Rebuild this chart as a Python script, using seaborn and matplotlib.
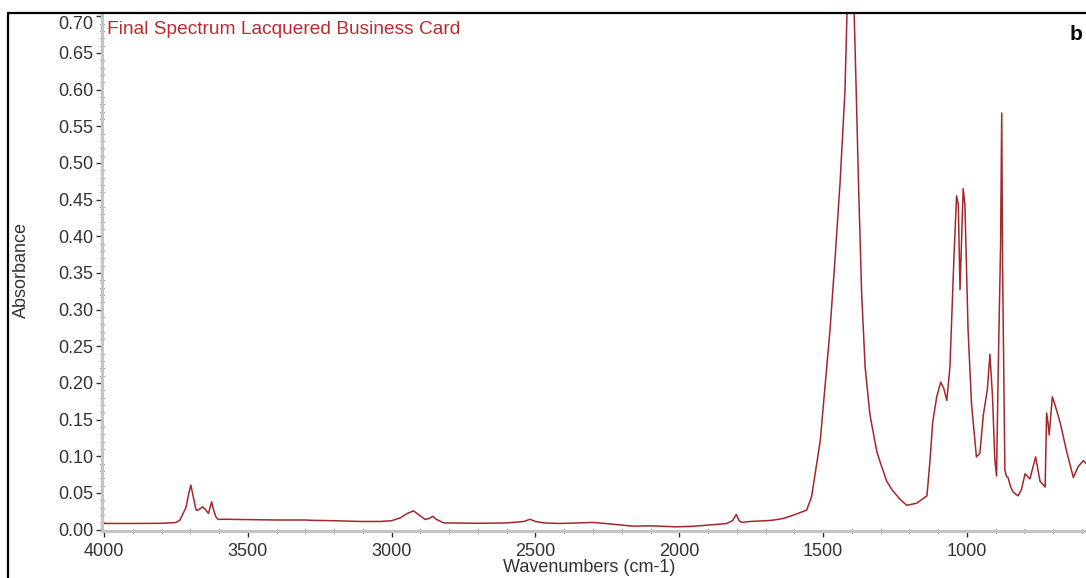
import matplotlib
matplotlib.use("Agg")
import matplotlib.pyplot as plt
from matplotlib.lines import Line2D
from matplotlib.ticker import MultipleLocator, FormatStrFormatter
import seaborn as sns
import pandas as pd

# FTIR absorbance spectrum of the lacquered business card
wavenumbers = [
    4000, 3900, 3800, 3750, 3736, 3715, 3705, 3698, 3690, 3682, 3678, 3667,
    3657, 3647, 3637, 3631, 3626, 3620, 3612, 3604, 3580, 3500, 3400, 3300,
    3273, 3200, 3110, 3040, 3000, 2970, 2945, 2924, 2905, 2884, 2870, 2857,
    2845, 2820, 2700, 2600, 2540, 2519, 2500, 2470, 2414, 2300, 2250, 2161,
    2100, 2009, 1950, 1900, 1870, 1835, 1815, 1802, 1792, 1783, 1754, 1700,
    1673, 1640, 1603, 1580, 1557, 1540, 1528, 1510, 1493, 1476, 1458, 1441,
    1424, 1417, 1410, 1400, 1392, 1385, 1377, 1366, 1354, 1337, 1313, 1300,
    1279, 1260, 1232, 1209, 1174, 1139, 1128, 1119, 1105, 1091, 1080, 1070,
    1059, 1045, 1036, 1030, 1024, 1013, 1007, 996, 984, 967, 955, 943, 929,
    920, 911, 903, 897, 891, 883, 879, 876, 868, 862, 857, 848, 839, 822, 810,
    798, 781, 761, 746, 728, 723, 718, 714, 703, 690, 676, 653, 630, 613, 595,
    586,
]
absorbance = [
    0.0083, 0.0083, 0.0085, 0.0095, 0.013, 0.030, 0.050, 0.0606, 0.045, 0.030, 0.026, 0.028,
    0.031, 0.027, 0.022, 0.030, 0.0378, 0.028, 0.018, 0.0138, 0.014, 0.0135, 0.013, 0.013,
    0.0125, 0.012, 0.011, 0.011, 0.012, 0.016, 0.022, 0.0255, 0.020, 0.0138, 0.015, 0.018,
    0.014, 0.0091, 0.0085, 0.009, 0.011, 0.014, 0.011, 0.009, 0.0083, 0.0097, 0.008, 0.0046,
    0.005, 0.0037, 0.0045, 0.006, 0.007, 0.0083, 0.012, 0.0206, 0.012, 0.0097, 0.011, 0.012,
    0.0128, 0.015, 0.0196, 0.023, 0.0265, 0.045, 0.075, 0.121, 0.197, 0.272, 0.372, 0.473,
    0.598, 0.703, 0.735, 0.735, 0.703, 0.600, 0.473, 0.322, 0.222, 0.156, 0.106, 0.090,
    0.066, 0.054, 0.041, 0.033, 0.036, 0.046, 0.096, 0.146, 0.181, 0.201, 0.192, 0.176,
    0.222, 0.372, 0.455, 0.443, 0.327, 0.465, 0.443, 0.272, 0.171, 0.099, 0.104, 0.156, 0.191,
    0.239, 0.181, 0.096, 0.073, 0.222, 0.387, 0.568, 0.357, 0.081, 0.072, 0.071, 0.058, 0.051,
    0.046, 0.055, 0.076, 0.069, 0.099, 0.066, 0.058, 0.159, 0.145, 0.129, 0.181, 0.165, 0.146,
    0.106, 0.071, 0.086, 0.094, 0.090,
]

x_major_ticks = [4000, 3500, 3000, 2500, 2000, 1500, 1000]
title_text = "Final Spectrum Lacquered Business Card"
panel_label = "b"

sns.set_theme(style="white")
plt.rcParams["font.family"] = ["Liberation Sans", "DejaVu Sans"]

W, H = 1086, 578
fig = plt.figure(figsize=(W / 100, H / 100), dpi=100)
ax = fig.add_axes([102 / W, (H - 531) / H, 1 - 102 / W, (531 - 14) / H])

df = pd.DataFrame({"wn": wavenumbers, "A": absorbance})
sns.lineplot(data=df, x="wn", y="A", ax=ax, color="#a3282b", linewidth=1.1,
             estimator=None, sort=False)

ax.set_xlim(4007, 586)
ax.set_ylim(-0.002, 0.703)

# axis lines: thick light grey
for side in ("top", "right"):
    ax.spines[side].set_visible(False)
for side in ("left", "bottom"):
    ax.spines[side].set_color("#c4c4c4")
    ax.spines[side].set_linewidth(2.2)

ax.set_xticks(x_major_ticks)
ax.set_xticklabels([str(v) for v in x_major_ticks])
ax.xaxis.set_minor_locator(MultipleLocator(100))
ax.yaxis.set_major_locator(MultipleLocator(0.05))
ax.yaxis.set_minor_locator(MultipleLocator(0.01))
ax.yaxis.set_major_formatter(FormatStrFormatter("%.2f"))

ax.tick_params(axis="both", which="major", labelsize=13, labelcolor="#333333",
               color="#333333", width=1.0)
ax.tick_params(axis="y", which="major", direction="out", length=4, pad=2, left=True)
ax.tick_params(axis="y", which="minor", direction="inout", length=3, width=0.8,
               color="#444444", left=True)
ax.tick_params(axis="x", which="major", direction="out", length=4, pad=5, bottom=True)
ax.tick_params(axis="x", which="minor", direction="inout", length=3, width=0.8,
               color="#444444", bottom=True)

# keep the topmost y label clear of the frame line
fig.canvas.draw()
for lbl in ax.get_yticklabels():
    if lbl.get_text() == "0.70":
        lbl.set_va("top")

ax.set_xlabel("Wavenumbers (cm-1)", fontsize=13, color="#333333")
ax.set_ylabel("Absorbance", fontsize=13, color="#333333")
ax.xaxis.set_label_coords((589 - 102) / (W - 102), -(568 - 531) / (531 - 14))
ax.xaxis.label.set_va("center")
ax.yaxis.set_label_coords(-(102 - 21) / (W - 102), 1 - (270 - 14) / (531 - 14))
ax.yaxis.label.set_va("center")

fig.text(107 / W, 1 - 30 / H, title_text, color="#bd2a30", fontsize=13.8,
         ha="left", va="center")
fig.text(1076 / W, 1 - 35 / H, panel_label, color="black", fontsize=15,
         fontweight="bold", ha="center", va="center")

# black frame around the panel
fig.add_artist(Line2D([8 / W, 1], [1 - 13 / H, 1 - 13 / H], transform=fig.transFigure,
                      color="black", linewidth=1.6))
fig.add_artist(Line2D([8 / W, 8 / W], [0, 1 - 13 / H], transform=fig.transFigure,
                      color="black", linewidth=1.6))

fig.savefig("out.png", dpi=100)
